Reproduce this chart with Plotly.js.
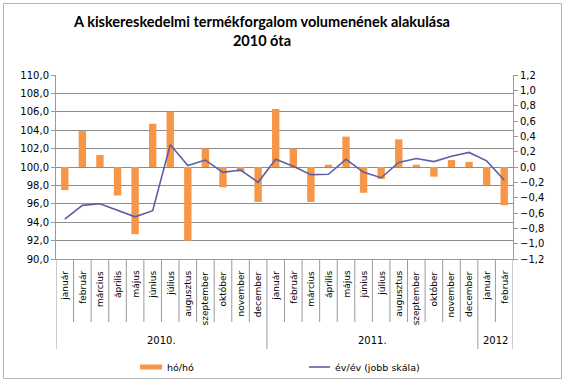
<!DOCTYPE html>
<html>
<head>
<meta charset="utf-8">
<script src="https://cdn.plot.ly/plotly-3.0.1.min.js"></script>
<style>
html,body{margin:0;padding:0;background:#fff;}
#chart{width:568px;height:383px;}
</style>
</head>
<body>
<div id="chart"></div>
<script>
// ---- data ----
var months = ["január","február","március","április","május","június","július","augusztus","szeptember","október","november","december",
              "január","február","március","április","május","június","július","augusztus","szeptember","október","november","december",
              "január","február"];
var years = ["2010.","2011.","2012"];
var yearCounts = [12, 12, 2];
var hoho = [97.5,103.9,101.3,96.9,92.7,104.7,106.0,92.0,102.0,97.8,99.5,96.2,
            106.3,102.0,96.2,100.25,103.3,97.2,98.7,103.0,100.25,98.95,100.75,100.55,
            98.05,95.85];
var evev = [-0.68,-0.50,-0.48,-0.57,-0.65,-0.57,0.29,0.02,0.09,-0.07,-0.04,-0.20,
            0.10,0.01,-0.10,-0.095,0.10,-0.07,-0.14,0.06,0.11,0.07,0.14,0.19,
            0.08,-0.17];
var seriesNames = ["hó/hó","év/év (jobb skála)"];
var titleText = "A kiskereskedelmi termékforgalom volumenének alakulása<br>2010 óta";

// ---- geometry helpers (pixel -> paper) ----
var W = 568, H = 383, mL = 56, mR = 55, mT = 75, mB = 124;
var pw = W - mL - mR, ph = H - mT - mB;
function px2x(px){ return (px - mL) / pw; }
function py2y(py){ return (H - mB - py) / ph; }

var idx = months.map(function(_, i){ return i; });

var traces = [
  {
    type: "bar",
    x: idx,
    y: hoho.map(function(v){ return v - 100; }),
    base: 100,
    name: seriesNames[0],
    marker: {color: "#F79646"},
    width: 0.42,
    showlegend: false,
    yaxis: "y"
  },
  {
    type: "scatter",
    mode: "lines",
    x: idx,
    y: evev,
    name: seriesNames[1],
    line: {color: "#5F5FA0", width: 1.6},
    showlegend: false,
    yaxis: "y2"
  }
];

var shapes = [];
var annotations = [];
var sepColor = "#9a9a9a";
var font = "DejaVu Sans, Verdana, sans-serif";

// month labels and short separators
months.forEach(function(m, i){
  annotations.push({
    x: i, xref: "x", y: py2y(269), yref: "paper",
    text: m, textangle: -90, showarrow: false,
    xanchor: "center", yanchor: "top",
    font: {family: font, size: 9, color: "#000"}
  });
});
// year boundaries
var bounds = [0];
yearCounts.forEach(function(c, k){ bounds.push(bounds[k] + c); });
var isYearBound = {};
bounds.forEach(function(b){ isYearBound[b] = true; });
for (var b = 0; b <= months.length; b++) {
  var yb = isYearBound[b] ? py2y(349) : py2y(322);
  shapes.push({type: "line", xref: "x", yref: "paper", x0: b - 0.5, x1: b - 0.5,
               y0: 0, y1: yb, line: {color: sepColor, width: 1}});
}
years.forEach(function(yname, k){
  annotations.push({
    x: (bounds[k] + bounds[k + 1] - 1) / 2, xref: "x", y: py2y(340), yref: "paper",
    text: yname, showarrow: false, xanchor: "center", yanchor: "middle",
    font: {family: font, size: 10, color: "#000"}
  });
});

// custom legend
shapes.push({type: "rect", xref: "paper", yref: "paper",
  x0: px2x(140), x1: px2x(162), y0: py2y(369.5), y1: py2y(364.5),
  fillcolor: "#F79646", line: {width: 0}});
annotations.push({x: px2x(165), xref: "paper", y: py2y(367), yref: "paper",
  text: seriesNames[0], showarrow: false, xanchor: "left", yanchor: "middle",
  font: {family: font, size: 9.5, color: "#000"}});
shapes.push({type: "line", xref: "paper", yref: "paper",
  x0: px2x(309), x1: px2x(330), y0: py2y(367), y1: py2y(367),
  line: {color: "#5F5FA0", width: 1.6}});
annotations.push({x: px2x(333), xref: "paper", y: py2y(367), yref: "paper",
  text: seriesNames[1], showarrow: false, xanchor: "left", yanchor: "middle",
  font: {family: font, size: 9.5, color: "#000"}});

// outer frame
shapes.push({type: "rect", xref: "paper", yref: "paper",
  x0: px2x(3.5), x1: px2x(561.5), y0: py2y(3.5), y1: py2y(378.5),
  line: {color: "#b4b4b4", width: 1}, fillcolor: "rgba(0,0,0,0)"});

var layout = {
  width: W, height: H,
  margin: {l: mL, r: mR, t: mT, b: mB, pad: 0},
  paper_bgcolor: "#fff", plot_bgcolor: "#fff",
  separators: ", ",
  title: {
    text: titleText,
    font: {family: "Lato, Open Sans, sans-serif", size: 14.5, color: "#000", weight: "bold"},
    x: 262 / W, xref: "container", xanchor: "center",
    y: 1 - 27 / H, yref: "container", yanchor: "top"
  },
  xaxis: {
    range: [-0.5, months.length - 0.5],
    showticklabels: false, showgrid: false, zeroline: false,
    showline: true, linecolor: sepColor, linewidth: 1, ticks: ""
  },
  yaxis: {
    range: [90, 110], dtick: 2, tick0: 90, tickformat: ".1f",
    showgrid: true, gridcolor: "#8c8c8c", gridwidth: 1,
    zeroline: false, showline: true, linecolor: sepColor,
    ticks: "outside", ticklen: 4, tickcolor: sepColor,
    tickfont: {family: font, size: 10, color: "#000"}
  },
  yaxis2: {
    range: [-1.2, 1.2], dtick: 0.2, tick0: -1.2, tickformat: ".1f",
    overlaying: "y", side: "right", showgrid: false, zeroline: false,
    showline: true, linecolor: sepColor,
    ticks: "outside", ticklen: 4, tickcolor: sepColor,
    tickfont: {family: font, size: 10, color: "#000"}
  },
  bargap: 0.5,
  shapes: shapes,
  annotations: annotations,
  showlegend: false
};

Plotly.newPlot("chart", traces, layout, {staticPlot: true, displayModeBar: false});
</script>
</body>
</html>
